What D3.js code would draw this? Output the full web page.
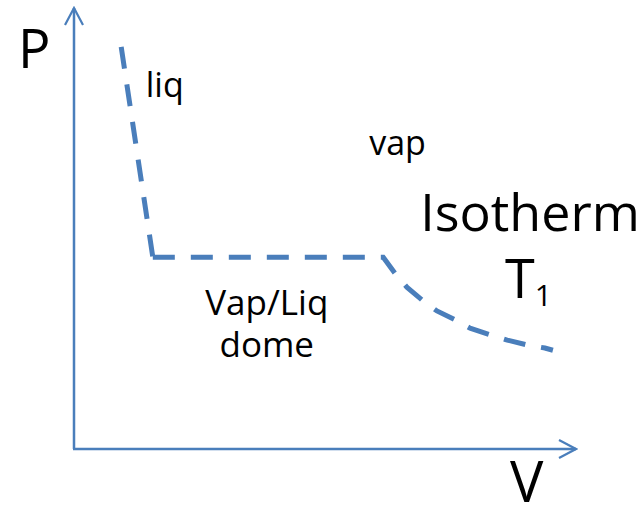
<html>

<head>
    <script src="https://d3js.org/d3.v7.min.js"></script>
    <style>
        body { margin: 0; background: #fff; }
        text { font-family: "Open Sans", "Noto Sans", sans-serif; fill: #000; }
    </style>
</head>

<body>
    <div id="chart"></div>
    <script>
        // isotherm points (V, P) in arbitrary units, 0..100 on both axes
        const liqV = [9.4, 15.7];
        const liqP = [91.2, 43.5];
        const isoV = [15.7, 61.6, 63.9, 66.3, 69.3, 72.3, 75.9, 78.9, 82.9, 86.3, 90.2, 93.8, 95.4];
        const isoP = [43.5, 43.5, 39.9, 36.7, 33.8, 31.3, 29.3, 27.4, 25.9, 24.7, 23.6, 22.9, 22.4];

        const regionLabels = ["liq", "vap"];
        const regionV = [14.3, 58.8];
        const regionP = [79.8, 66.7];

        const domeLines = ["Vap/Liq", "dome"];
        const domeV = 38.4;
        const domeP = [30.4, 20.9];

        const axisLabels = ["P", "V"];

        const svg = d3.select("#chart")
            .append("svg")
            .attr("width", 644)
            .attr("height", 513);

        const color = "#4a7ebb";

        const vScale = d3.scaleLinear().domain([0, 100]).range([74, 576]);
        const pScale = d3.scaleLinear().domain([0, 100]).range([449, 8]);

        // arrowheads
        const defs = svg.append("defs");
        defs.append("marker")
            .attr("id", "arrow")
            .attr("viewBox", "0 0 20 20")
            .attr("refX", 18).attr("refY", 10)
            .attr("markerWidth", 20).attr("markerHeight", 20)
            .attr("markerUnits", "userSpaceOnUse")
            .attr("orient", "auto")
            .append("path")
            .attr("d", "M1,1 L18,10 L1,19")
            .attr("fill", "none")
            .attr("stroke", color)
            .attr("stroke-width", 2.2);

        // axes
        const axes = svg.append("g").attr("class", "axes");
        axes.append("line")
            .attr("x1", vScale(0)).attr("y1", pScale(0))
            .attr("x2", vScale(0)).attr("y2", pScale(100))
            .attr("stroke", color).attr("stroke-width", 2.5)
            .attr("marker-end", "url(#arrow)");
        axes.append("line")
            .attr("x1", vScale(0) - 1).attr("y1", pScale(0))
            .attr("x2", vScale(100)).attr("y2", pScale(0))
            .attr("stroke", color).attr("stroke-width", 2.5)
            .attr("marker-end", "url(#arrow)");

        // isotherm, two pieces so the dashes restart at the corner
        const line = d3.line()
            .x(d => vScale(d[0]))
            .y(d => pScale(d[1]));
        const pieces = [
            liqV.map((v, i) => [v, liqP[i]]),
            isoV.map((v, i) => [v, isoP[i]])
        ];
        svg.selectAll("path.iso")
            .data(pieces)
            .join("path")
            .attr("class", "iso")
            .attr("d", line)
            .attr("fill", "none")
            .attr("stroke", color)
            .attr("stroke-width", 5)
            .attr("stroke-dasharray", "22,16");

        // axis labels
        svg.append("text")
            .attr("x", 18).attr("y", 68)
            .attr("font-size", 54)
            .text(axisLabels[0]);
        svg.append("text")
            .attr("x", 510).attr("y", 502)
            .attr("font-size", 56)
            .text(axisLabels[1]);

        // region labels
        svg.selectAll("text.region")
            .data(regionLabels)
            .join("text")
            .attr("class", "region")
            .attr("x", (d, i) => vScale(regionV[i]))
            .attr("y", (d, i) => pScale(regionP[i]))
            .attr("font-size", 34)
            .text(d => d);

        const dome = svg.append("text")
            .attr("text-anchor", "middle")
            .attr("font-size", 35);
        dome.selectAll("tspan")
            .data(domeLines)
            .join("tspan")
            .attr("x", vScale(domeV))
            .attr("y", (d, i) => pScale(domeP[i]))
            .text(d => d);

        // isotherm title
        svg.append("text")
            .attr("x", 530).attr("y", 231)
            .attr("text-anchor", "middle")
            .attr("font-size", 52)
            .text("Isotherm");
        const t1 = svg.append("text")
            .attr("x", 505).attr("y", 298)
            .attr("font-size", 54);
        t1.append("tspan").text("T");
        t1.append("tspan").attr("font-size", 30).attr("dy", 8).text("1");
    </script>
</body>

</html>
